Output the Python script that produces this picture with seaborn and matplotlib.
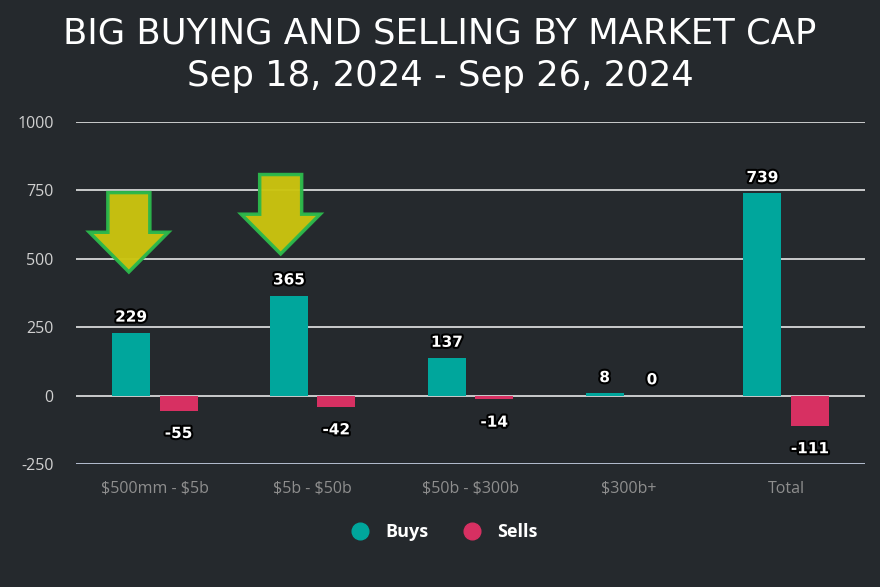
import pandas as pd
import seaborn as sns
import matplotlib.pyplot as plt
import matplotlib.patheffects as pe
from matplotlib.patches import Polygon
from matplotlib.lines import Line2D

# chart data
categories = ["$500mm - $5b", "$5b - $50b", "$50b - $300b", "$300b+", "Total"]
buys = [229, 365, 137, 8, 739]
sells = [-55, -42, -14, 0, -111]
y_ticks = [-250, 0, 250, 500, 750, 1000]

# arrows pointing at the first two groups: (category index, tip value)
arrow_targets = [(0, 452), (1, 518)]

BG = "#25292d"
TEAL = "#00a69c"
RED = "#d73062"

sns.set_theme(style="dark")
plt.rcParams["font.family"] = ["Open Sans", "DejaVu Sans"]
plt.rcParams["text.parse_math"] = False
plt.rcParams["axes.unicode_minus"] = False

df = pd.DataFrame({
    "category": categories * 2,
    "value": buys + sells,
    "kind": ["Buys"] * len(buys) + ["Sells"] * len(sells),
})

fig = plt.figure(figsize=(8.8, 5.87), dpi=100, facecolor=BG)
ax = fig.add_axes([76 / 880, 1 - 464 / 587, (865 - 76) / 880, (464 - 122) / 587])
ax.set_facecolor(BG)

sns.barplot(data=df, x="category", y="value", hue="kind",
            palette={"Buys": TEAL, "Sells": RED}, width=0.6, gap=0.2,
            saturation=1, linewidth=0, ax=ax, legend=False, zorder=3)

ax.set_ylim(-250, 1000)
ax.set_xlim(-0.5, 4.5)
ax.set_yticks(y_ticks)
for t in y_ticks:
    ax.axhline(t, color="#ccd6eb" if t == -250 else "#e6e6e6", lw=1.2, zorder=1)
ax.grid(False)
for s in ax.spines.values():
    s.set_visible(False)
ax.set_xlabel("")
ax.set_ylabel("")
ax.tick_params(axis="y", colors="#d0d0d0", labelsize=11.5, length=0, pad=16)
ax.tick_params(axis="x", colors="#8e8e8e", labelsize=11.5, length=0, pad=12)

# value labels
outline = [pe.withStroke(linewidth=3, foreground="black")]
for cont in ax.containers:
    for bar in cont:
        v = bar.get_height()
        xc = bar.get_x() + bar.get_width() / 2
        if v >= 0:
            ax.annotate(f"{v:.0f}", (xc, v), xytext=(0, 6), textcoords="offset points",
                        ha="center", va="bottom", color="white", fontsize=11,
                        fontweight="bold", family="DejaVu Sans",
                        path_effects=outline, zorder=5)
        else:
            ax.annotate(f"{v:.0f}", (xc, v), xytext=(0, -11), textcoords="offset points",
                        ha="center", va="top", color="white", fontsize=11,
                        fontweight="bold", family="DejaVu Sans",
                        path_effects=outline, zorder=5)

# highlight arrows
offsets = [-0.165, -0.203]
for (i, tip), off in zip(arrow_targets, offsets):
    cx = i + off
    sw, hw = 0.133, 0.25
    top, neck = tip + 290, tip + 145
    pts = [(cx - sw, top), (cx + sw, top), (cx + sw, neck), (cx + hw, neck),
           (cx, tip), (cx - hw, neck), (cx - sw, neck)]
    ax.add_patch(Polygon(pts, closed=True, facecolor="#cbc40f", edgecolor="#2cb84c",
                         lw=2.5, zorder=6, alpha=0.97))

fig.text(0.5, 0.943, "BIG BUYING AND SELLING BY MARKET CAP", ha="center", va="center",
         color="white", fontsize=25.5, family="DejaVu Sans")
fig.text(0.5, 0.870, "Sep 18, 2024 - Sep 26, 2024", ha="center", va="center",
         color="white", fontsize=25.5, family="DejaVu Sans")

handles = [Line2D([], [], marker="o", ls="", markersize=12, color=TEAL),
           Line2D([], [], marker="o", ls="", markersize=12, color=RED)]
leg = fig.legend(handles, ["Buys", "Sells"], loc="center", bbox_to_anchor=(0.5, 1 - 532 / 587),
                 ncol=2, frameon=False, handletextpad=0.4, columnspacing=1.4,
                 prop={"weight": "bold", "size": 13})
for t in leg.get_texts():
    t.set_color("white")

fig.savefig("out.png", dpi=100, facecolor=BG)
